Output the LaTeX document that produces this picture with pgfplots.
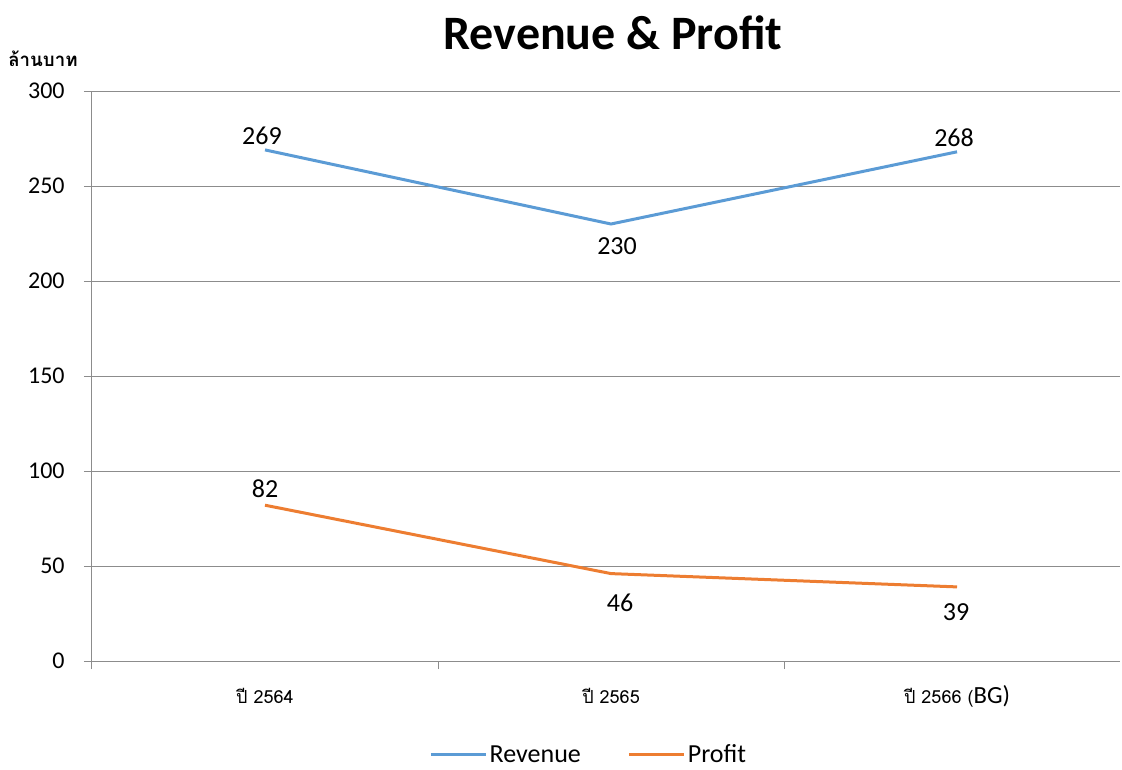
\documentclass[border=0pt]{standalone}
\usepackage{pgfplots}
\pgfplotsset{compat=1.18}
\usepackage{fontspec}
\setmainfont{Carlito}
\newfontfamily\thaifont[Script=Thai]{Loma}
\definecolor{rev}{HTML}{5B9BD5}
\definecolor{pro}{HTML}{ED7D31}
\definecolor{gridc}{HTML}{8C8C8C}
\begin{document}
\begin{tikzpicture}
\useasboundingbox (-69pt,-81pt) rectangle (772.5pt,495.75pt);
\begin{axis}[
 scale only axis, width=771pt, height=427.5pt,
 xmin=0, xmax=2.971, ymin=0, ymax=300,
 axis x line=bottom, axis y line=left,
 axis line style={gridc, line width=0.75pt, -},
 ytick={0,50,...,300}, ymajorgrids,
 grid style={gridc, line width=0.75pt},
 xtick={0,1,2,3}, xticklabels={},
 extra x ticks={0.5,1.5,2.5},
 extra x tick labels={{\thaifont ปี 2564},{\thaifont ปี 2565},{\thaifont ปี 2566 (}{\fontsize{18.5}{20}\selectfont BG)}},
 extra x tick style={major tick length=0pt, grid=none, tick label style={font=\fontsize{13.5}{15}\selectfont, anchor=base, yshift=-32pt}},
 tick style={gridc, line width=0.75pt}, major tick length=6pt, tick align=outside,
 /pgf/number format/assume math mode=true,
 yticklabel style={font=\fontsize{18}{20}\selectfont, xshift=-11pt},
 legend style={at={(0.4835,-0.1645)}, anchor=center, draw=none, fill=none, legend columns=2,
   font=\fontsize{19.5}{21}\selectfont, /tikz/every even column/.append style={column sep=33pt},
   inner sep=0pt},
 legend image code/.code={\draw[#1] (0pt,0pt) -- (41pt,0pt);},
 nodes near coords style={font=\fontsize{19.5}{21}\selectfont, black, anchor=center, xshift=\dx pt, yshift=\dy pt},
 clip=false,
]
\addplot[rev, line width=2.25pt, nodes near coords, point meta=explicit,
  visualization depends on={\thisrow{dx}\as\dx},
  visualization depends on={\thisrow{dy}\as\dy}]
 table[x=x, y=y, meta=y]{
x y dx dy
0.5 269 -2.25 10.5
1.5 230 4.5 -16.5
2.5 268 -2.25 10.5
};
\addlegendentry{Revenue}
\addplot[pro, line width=2.25pt, nodes near coords, point meta=explicit,
  visualization depends on={\thisrow{dx}\as\dx},
  visualization depends on={\thisrow{dy}\as\dy}]
 table[x=x, y=y, meta=y]{
x y dx dy
0.5 82 0 12
1.5 46 6.75 -21.75
2.5 39 -0.75 -18.75
};
\addlegendentry{Profit}
\end{axis}
\node[font=\fontsize{36}{40}\selectfont\bfseries] at (390.75pt,471pt) {Revenue \& Profit};
\node[anchor=west, inner sep=0pt, font=\fontsize{14}{16}\selectfont\bfseries] at (-63pt,452pt) {\thaifont ล้านบาท};
\end{tikzpicture}
\end{document}
